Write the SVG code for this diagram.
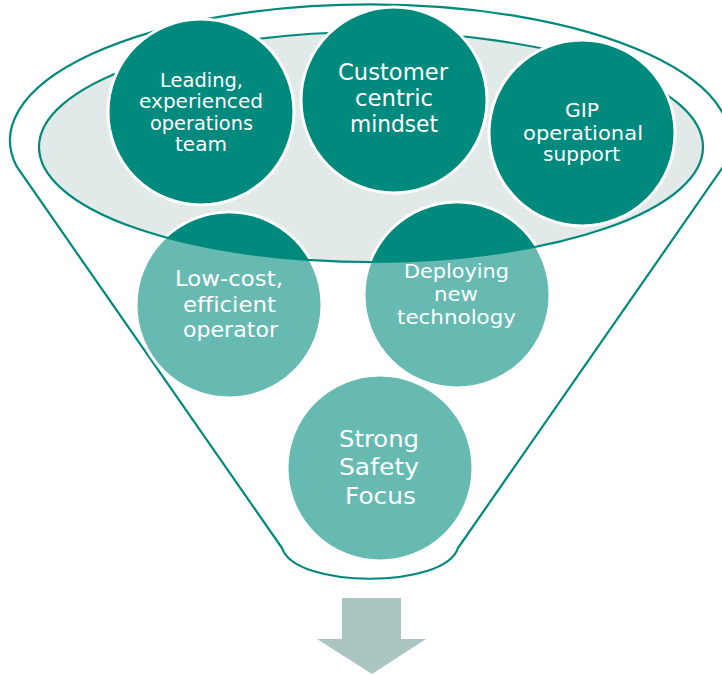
<svg xmlns="http://www.w3.org/2000/svg" width="722" height="675" viewBox="0 0 722 675">
  <defs>
    <style>
      .rim { fill: none; stroke: #00897C; stroke-width: 2.2; }
      .bowl { fill: #E2EAE9; }
      .dark { fill: #008A7D; stroke: #FFFFFF; stroke-width: 3; }
      .light { fill: #66BAB2; stroke: #FFFFFF; stroke-width: 3; }
      .shade { fill: #008A7D; }
      .lbl { fill: #FFFFFF; font-family: "DejaVu Sans", "Liberation Sans", sans-serif; text-anchor: middle; font-variant-ligatures: none; }
      .s19 { font-size: 19px; }
      .s20 { font-size: 20px; }
      .s22 { font-size: 22px; }
      .s23 { font-size: 23px; }
      .arrow { fill: #AAC5C1; }
    </style>
    <clipPath id="bowlClip">
      <ellipse cx="371" cy="147" rx="332" ry="115"/>
    </clipPath>
  </defs>

  <!-- funnel outline: top rim arc, tapered sides, small bottom curve -->
  <g id="funnel">
    <path class="rim" d="M 282 548 L 17 167 A 360 136 0 1 1 723 167 L 458 548 C 445 589, 295 589, 282 548 Z"/>
    <ellipse class="bowl" cx="371" cy="147" rx="332" ry="115"/>
  </g>

  <!-- lower circles (partly inside the funnel mouth) -->
  <g id="node-low-cost">
    <circle class="light" cx="229" cy="305" r="93"/>
    <circle class="shade" cx="229" cy="305" r="91.5" clip-path="url(#bowlClip)"/>
  </g>
  <g id="node-deploying">
    <circle class="light" cx="457" cy="295" r="93"/>
    <circle class="shade" cx="457" cy="295" r="91.5" clip-path="url(#bowlClip)"/>
  </g>
  <g id="node-safety">
    <circle class="light" cx="380" cy="468" r="93"/>
  </g>

  <!-- funnel mouth edge drawn over the lower circles -->
  <ellipse class="rim" cx="371" cy="147" rx="332" ry="115"/>

  <!-- upper circles -->
  <g id="node-leading">
    <circle class="dark" cx="201" cy="112" r="93"/>
    <text class="lbl s19" x="201.5" y="87" textLength="83" lengthAdjust="spacingAndGlyphs">Leading,</text>
    <text class="lbl s19" x="201" y="108" textLength="124" lengthAdjust="spacingAndGlyphs">experienced</text>
    <text class="lbl s19" x="201.5" y="129.5" textLength="103" lengthAdjust="spacingAndGlyphs">operations</text>
    <text class="lbl s19" x="201" y="151" textLength="52" lengthAdjust="spacingAndGlyphs">team</text>
  </g>
  <g id="node-customer">
    <circle class="dark" cx="394" cy="100" r="93"/>
    <text class="lbl s23" x="393" y="80" textLength="110" lengthAdjust="spacingAndGlyphs">Customer</text>
    <text class="lbl s23" x="394" y="106" textLength="78" lengthAdjust="spacingAndGlyphs">centric</text>
    <text class="lbl s23" x="394" y="132" textLength="88" lengthAdjust="spacingAndGlyphs">mindset</text>
  </g>
  <g id="node-gip">
    <circle class="dark" cx="582" cy="133" r="93"/>
    <text class="lbl s19" x="582" y="117" textLength="34" lengthAdjust="spacingAndGlyphs">GIP</text>
    <text class="lbl s19" x="583" y="140" textLength="120" lengthAdjust="spacingAndGlyphs">operational</text>
    <text class="lbl s19" x="581.5" y="161" textLength="77" lengthAdjust="spacingAndGlyphs">support</text>
  </g>

  <!-- labels of the lower circles -->
  <g id="label-low-cost">
    <text class="lbl s22" x="229" y="286" textLength="108" lengthAdjust="spacingAndGlyphs">Low-cost,</text>
    <text class="lbl s22" x="229.5" y="312" textLength="93" lengthAdjust="spacingAndGlyphs">efficient</text>
    <text class="lbl s22" x="230.5" y="337" textLength="95" lengthAdjust="spacingAndGlyphs">operator</text>
  </g>
  <g id="label-deploying">
    <text class="lbl s20" x="456.5" y="278" textLength="105" lengthAdjust="spacingAndGlyphs">Deploying</text>
    <text class="lbl s20" x="456" y="301" textLength="44" lengthAdjust="spacingAndGlyphs">new</text>
    <text class="lbl s20" x="456.5" y="324" textLength="119" lengthAdjust="spacingAndGlyphs">technology</text>
  </g>
  <g id="label-safety">
    <text class="lbl s23" x="379" y="447" textLength="80" lengthAdjust="spacingAndGlyphs">Strong</text>
    <text class="lbl s23" x="379" y="475" textLength="80" lengthAdjust="spacingAndGlyphs">Safety</text>
    <text class="lbl s23" x="380.5" y="504" textLength="71" lengthAdjust="spacingAndGlyphs">Focus</text>
  </g>

  <!-- output arrow below the funnel -->
  <g id="output-arrow">
    <path class="arrow" d="M 342 598 L 401 598 L 401 639 L 426 639 L 372 674 L 317 639 L 342 639 Z"/>
  </g>
</svg>
